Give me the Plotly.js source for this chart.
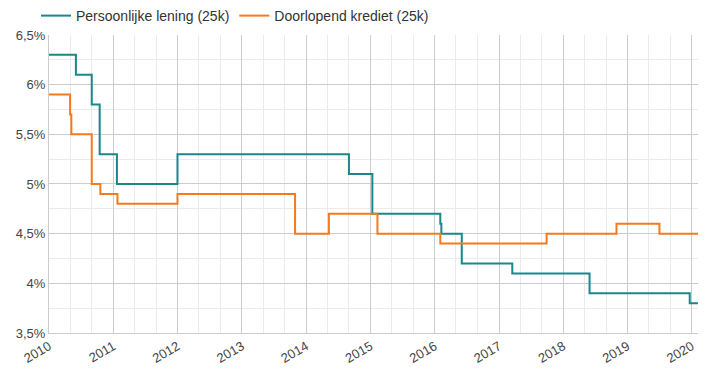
<!DOCTYPE html>
<html><head><meta charset="utf-8">
<script src="https://cdn.plot.ly/plotly-3.0.1.min.js"></script>
<style>html,body{margin:0;padding:0;background:#fff}#chart{width:719px;height:384px}</style>
</head><body><div id="chart"></div>
<script>
const plDates = ["2010-01-01","2010-06-03","2010-09-01","2010-10-16","2011-01-22","2012-01-01","2014-09-01","2015-01-12","2016-02-02","2016-02-08","2016-06-03","2017-03-17","2018-05-30","2019-12-20","2020-02-05"];
const plRates = [6.3,6.1,5.8,5.3,5.0,5.3,5.1,4.7,4.6,4.5,4.2,4.1,3.9,3.8,3.8];
const dkDates = ["2010-01-01","2010-05-01","2010-05-08","2010-09-01","2010-10-20","2011-01-25","2012-01-01","2013-10-30","2014-05-10","2015-02-10","2016-02-02","2017-09-28","2018-10-30","2019-07-01","2020-02-05"];
const dkRates = [5.9,5.7,5.5,5.0,4.9,4.8,4.9,4.5,4.7,4.5,4.4,4.5,4.6,4.5,4.5];
const seriesNames = ["Persoonlijke lening (25k)","Doorlopend krediet (25k)"];

const traces = [
  {x: plDates, y: plRates, name: seriesNames[0], type: "scatter", mode: "lines",
   line: {shape: "hv", color: "#1a878a", width: 2}},
  {x: dkDates, y: dkRates, name: seriesNames[1], type: "scatter", mode: "lines",
   line: {shape: "hv", color: "#f57a1c", width: 2}}
];
const layout = {
  width: 719, height: 384,
  margin: {l: 36, r: 21, t: 0, b: 51, pad: 0},
  paper_bgcolor: "#fff", plot_bgcolor: "#fff",
  font: {family: "Liberation Sans, Arial, sans-serif", size: 13, color: "#444"},
  separators: ",.",
  showlegend: true,
  legend: {orientation: "h", x: 0, xanchor: "left",
    y: 1.0, yanchor: "top",
    font: {size: 14, color: "#333"}, traceorder: "normal"},
  xaxis: {domain: [0.0196, 1], type: "date", range: ["2010-01-01", "2020-02-05"],
    dtick: "M12", tick0: "2010-01-01", tickformat: "%Y", tickangle: -30,
    showgrid: true, gridcolor: "#cccccc", gridwidth: 1,
    minor: {dtick: "M4", showgrid: true, gridcolor: "#ebebeb", gridwidth: 1},
    showline: true, linecolor: "#cccccc", zeroline: false, ticks: "",
    tickfont: {size: 13, color: "#444"}},
  yaxis: {domain: [0, 0.8949], range: [3.5, 6.5], dtick: 0.5, tick0: 3.5, ticksuffix: "%",
    showgrid: true, gridcolor: "#cccccc", gridwidth: 1,
    minor: {dtick: 0.25, showgrid: true, gridcolor: "#ebebeb", gridwidth: 1},
    showline: true, linecolor: "#cccccc", zeroline: false, ticks: "",
    tickfont: {size: 13, color: "#444"}}
};
Plotly.newPlot("chart", traces, layout, {displayModeBar: false, staticPlot: true});
</script>
</body></html>
